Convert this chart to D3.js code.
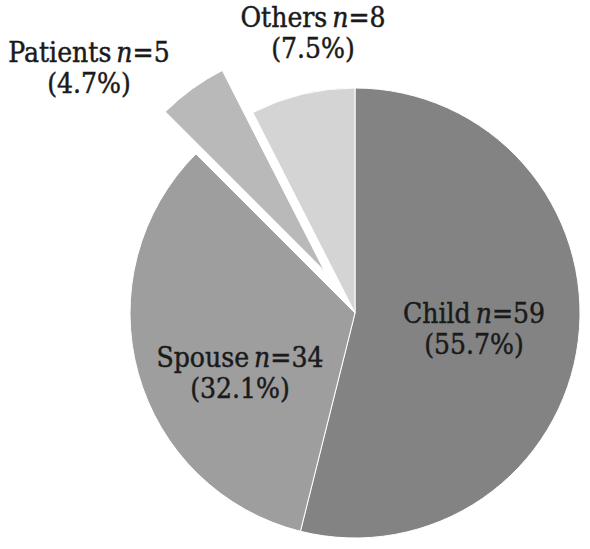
<!DOCTYPE html>
<html>
<head>
<meta charset="utf-8">
<script src="https://cdn.jsdelivr.net/npm/d3@7"></script>
<style>
  html, body { margin: 0; padding: 0; background: #fff; }
  svg { display: block; }
  text { font-family: "DejaVu Serif Condensed", "DejaVu Serif", serif; font-stretch: condensed; fill: #1a1a1a; stroke: #1a1a1a; stroke-width: 0.45px; }
</style>
</head>
<body>
<svg id="chart" width="590" height="549"></svg>
<script>
// ---- data ----
const categories = ["Child", "Spouse", "Patients", "Others"];
const counts = [59, 34, 5, 8];
const percentLabels = ["55.7%", "32.1%", "4.7%", "7.5%"];
// slice shares as drawn in the picture (percent of the circle)
const drawnShares = [53.9, 33.6, 5.0, 7.5];
const colors = ["#838383", "#9e9e9e", "#b9b9b9", "#d4d4d4"];
const exploded = [false, false, true, false];

// ---- layout ----
const cx = 355, cy = 313, R = 225, explodeDist = 52;
const fontSize = 28, lineGap = 31;
const labelPos = [
  { x: 474, y: 323 },
  { x: 240, y: 367 },
  { x: 89,  y: 62 },
  { x: 313, y: 27 }
];

const svg = d3.select("#chart");
const g = svg.append("g").attr("transform", `translate(${cx},${cy})`);

const items = categories.map((c, i) => ({ name: c, share: drawnShares[i], i }));
const pie = d3.pie().sort(null).value(d => d.share).startAngle(0).endAngle(2 * Math.PI);
const arc = d3.arc().innerRadius(0).outerRadius(R);
const arcs = pie(items);

g.selectAll("path.slice")
  .data(arcs)
  .join("path")
  .attr("class", "slice")
  .attr("d", arc)
  .attr("fill", d => colors[d.data.i])
  .attr("stroke", "#ffffff")
  .attr("stroke-width", 1)
  .attr("transform", d => {
    if (!exploded[d.data.i]) return null;
    const a = (d.startAngle + d.endAngle) / 2;
    return `translate(${explodeDist * Math.sin(a)},${-explodeDist * Math.cos(a)})`;
  });

const labels = svg.selectAll("g.label")
  .data(categories)
  .join("g")
  .attr("class", "label");

labels.each(function (c, i) {
  const sel = d3.select(this);
  const t1 = sel.append("text")
    .attr("x", labelPos[i].x)
    .attr("y", labelPos[i].y)
    .attr("text-anchor", "middle")
    .attr("font-size", fontSize);
  t1.append("tspan").text(c);
  t1.append("tspan").attr("dx", 5).attr("font-style", "italic").text("n");
  t1.append("tspan").text("=" + counts[i]);
  sel.append("text")
    .attr("x", labelPos[i].x)
    .attr("y", labelPos[i].y + lineGap)
    .attr("text-anchor", "middle")
    .attr("font-size", fontSize)
    .text("(" + percentLabels[i] + ")");
});
</script>
</body>
</html>
